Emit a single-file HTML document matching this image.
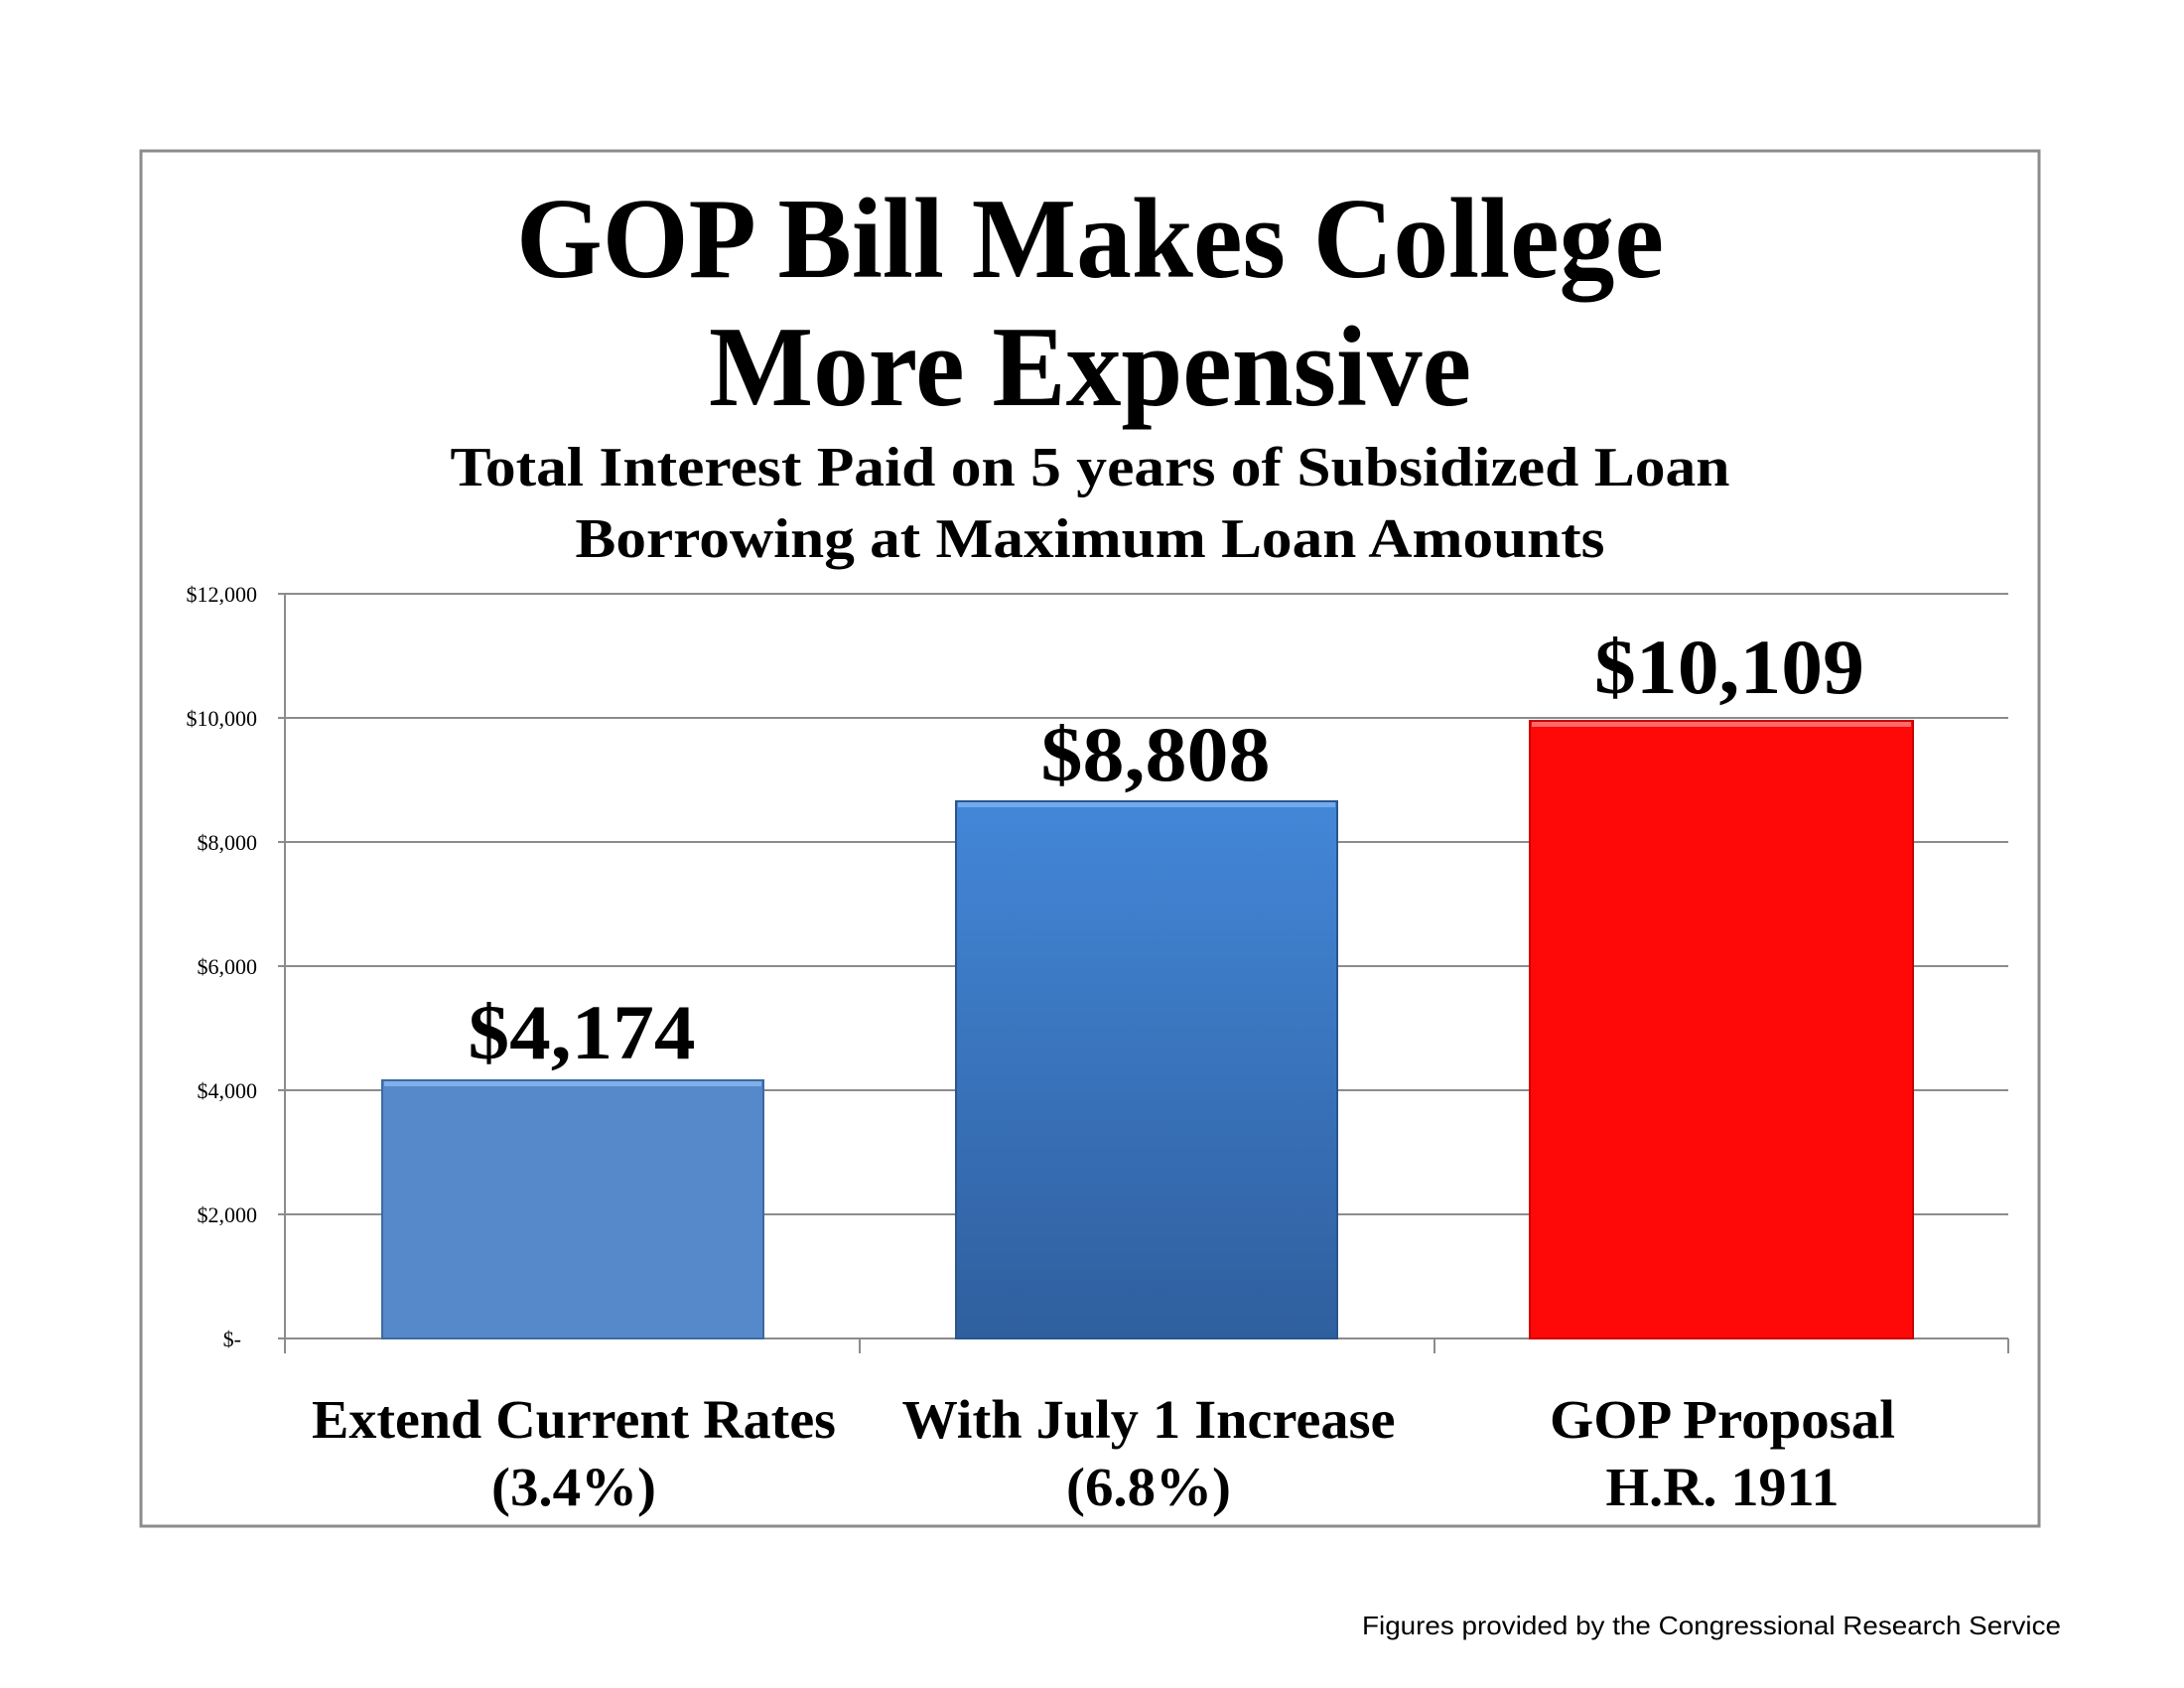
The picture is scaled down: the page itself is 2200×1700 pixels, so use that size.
<!DOCTYPE html>
<html><head><style>html,body{margin:0;padding:0;background:#fff}svg{display:block}</style></head>
<body>
<svg width="2200" height="1700" viewBox="0 0 2200 1700" xmlns="http://www.w3.org/2000/svg">
<defs>
<linearGradient id="g2" x1="0" y1="0" x2="0" y2="1"><stop offset="0" stop-color="#4387d8"/><stop offset="1" stop-color="#2f5f9e"/></linearGradient>
</defs>
<rect x="142" y="152" width="1912" height="1385" fill="#fff" stroke="#8c8c8c" stroke-width="3"/>
<g font-family="Liberation Serif, serif" font-weight="bold" text-anchor="middle" fill="#000" lengthAdjust="spacingAndGlyphs">
<text x="1098" y="279" font-size="116" textLength="1156" lengthAdjust="spacingAndGlyphs">GOP Bill Makes College</text>
<text x="1098" y="408" font-size="116" textLength="768" lengthAdjust="spacingAndGlyphs">More Expensive</text>
<text x="1098" y="489" font-size="56" textLength="1289" lengthAdjust="spacingAndGlyphs">Total Interest Paid on 5 years of Subsidized Loan</text>
<text x="1098" y="561" font-size="56" textLength="1037" lengthAdjust="spacingAndGlyphs">Borrowing at Maximum Loan Amounts</text>
</g>
<g stroke="#8c8c8c" stroke-width="2">
<line x1="280" y1="598" x2="2023" y2="598"/>
<line x1="280" y1="723" x2="2023" y2="723"/>
<line x1="280" y1="848" x2="2023" y2="848"/>
<line x1="280" y1="973" x2="2023" y2="973"/>
<line x1="280" y1="1098" x2="2023" y2="1098"/>
<line x1="280" y1="1223" x2="2023" y2="1223"/>
<line x1="280" y1="1348" x2="2023" y2="1348"/>
<line x1="287" y1="598" x2="287" y2="1363"/>
<line x1="866" y1="1348" x2="866" y2="1363"/>
<line x1="1445" y1="1348" x2="1445" y2="1363"/>
<line x1="2023" y1="1348" x2="2023" y2="1363"/>
</g>
<g font-family="Liberation Serif, serif" font-size="22" text-anchor="end" fill="#000">
<text x="259" y="606">$12,000</text>
<text x="259" y="731">$10,000</text>
<text x="259" y="856">$8,000</text>
<text x="259" y="981">$6,000</text>
<text x="259" y="1106">$4,000</text>
<text x="259" y="1231">$2,000</text>
<text x="243" y="1356">$-</text>
</g>
<rect x="385" y="1088" width="384" height="260" fill="#5689c9" stroke="#3d6aa3" stroke-width="2"/>
<rect x="387" y="1089" width="380" height="5" fill="#7fb0ea"/>
<rect x="963" y="807" width="384" height="541" fill="url(#g2)" stroke="#2a558f" stroke-width="2"/>
<rect x="965" y="808" width="380" height="5" fill="#72abee"/>
<rect x="1541" y="726" width="386" height="622" fill="#ff0808" stroke="#c00" stroke-width="2"/>
<rect x="1543" y="727" width="382" height="5" fill="#ff6a6a"/>
<g font-family="Liberation Serif, serif" font-weight="bold" text-anchor="middle" fill="#000">
<text x="586" y="1066" font-size="78" textLength="229" lengthAdjust="spacingAndGlyphs">$4,174</text>
<text x="1164" y="786" font-size="78" textLength="231" lengthAdjust="spacingAndGlyphs">$8,808</text>
<text x="1742" y="698" font-size="78" textLength="272" lengthAdjust="spacingAndGlyphs">$10,109</text>
<g font-size="55">
<text x="578" y="1448" textLength="528" lengthAdjust="spacingAndGlyphs">Extend Current Rates</text>
<text x="578" y="1516" textLength="166" lengthAdjust="spacingAndGlyphs">(3.4%)</text>
<text x="1157" y="1448" textLength="497" lengthAdjust="spacingAndGlyphs">With July 1 Increase</text>
<text x="1157" y="1516" textLength="166" lengthAdjust="spacingAndGlyphs">(6.8%)</text>
<text x="1735" y="1448" textLength="348" lengthAdjust="spacingAndGlyphs">GOP Proposal</text>
<text x="1735" y="1516" textLength="235" lengthAdjust="spacingAndGlyphs">H.R. 1911</text>
</g>
</g>
<text x="2076" y="1646" font-family="Liberation Sans, sans-serif" font-size="26" text-anchor="end" fill="#000" textLength="704" lengthAdjust="spacingAndGlyphs">Figures provided by the Congressional Research Service</text>
</svg>
</body></html>
